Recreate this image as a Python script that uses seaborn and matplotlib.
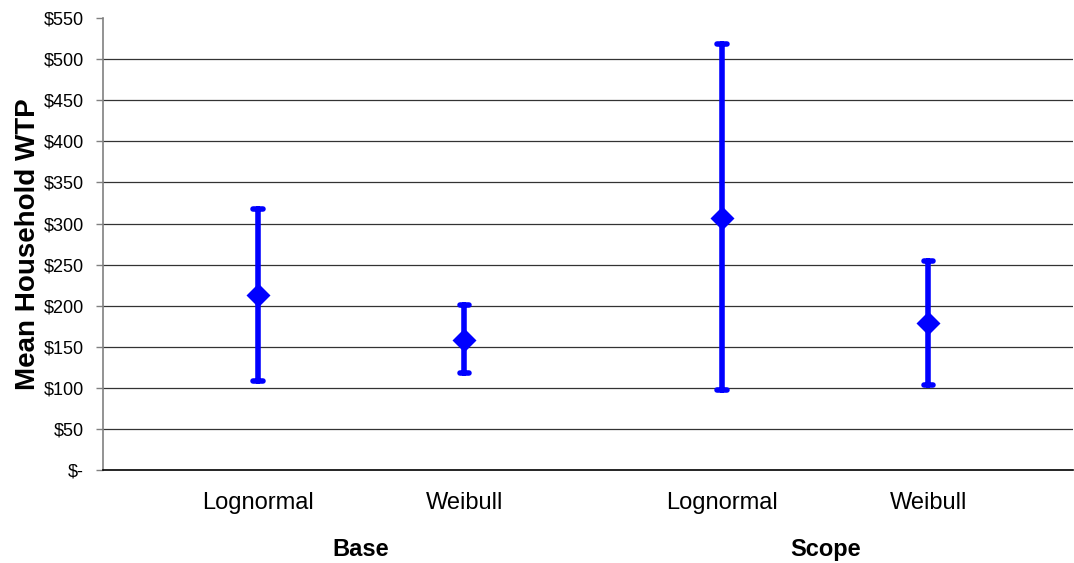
import seaborn as sns
import matplotlib.pyplot as plt
import pandas as pd

# WTP estimates by model: mean with lower / upper bounds
groups = ["Base", "Base", "Scope", "Scope"]
methods = ["Lognormal", "Weibull", "Lognormal", "Weibull"]
mean_wtp = [213, 158, 307, 179]
lower_wtp = [108, 118, 98, 104]
upper_wtp = [318, 201, 518, 255]
yticks = [0, 50, 100, 150, 200, 250, 300, 350, 400, 450, 500, 550]

sns.set_style("white", {"text.color": "black", "axes.labelcolor": "black",
                        "xtick.color": "black", "ytick.color": "black"})
plt.rcParams["font.family"] = ["Liberation Sans", "DejaVu Sans"]

# numeric positions: categories one apart, a little extra gap between groups
group_names = list(dict.fromkeys(groups))
pos = [i + 0.75 + 0.25 * group_names.index(g) for i, g in enumerate(groups)]

rows = []
for p, lo, m, hi in zip(pos, lower_wtp, mean_wtp, upper_wtp):
    for v in (lo, m, hi):
        rows.append({"pos": p, "wtp": v})
df = pd.DataFrame(rows)

fig = plt.figure(figsize=(10.74, 5.63), dpi=100)
ax = fig.add_axes([0.096, 0.165, 0.903, 0.803])

sns.pointplot(data=df, x="pos", y="wtp", native_scale=True,
              estimator="median", errorbar=lambda v: (v.min(), v.max()),
              linestyle="none", markers="D", markersize=10, color="#0000ff",
              capsize=0.045, err_kws={"linewidth": 4, "solid_capstyle": "round"},
              ax=ax)

ax.set_xlim(0, 4.7)
ax.set_ylim(0, 550)
ax.set_yticks(yticks)
ax.set_yticklabels(["$-" if t == 0 else f"${t}" for t in yticks], fontsize=13)
for t in yticks[1:-1]:
    ax.axhline(t, color="#333333", linewidth=0.9, zorder=0)

ax.set_xticks(pos)
ax.set_xticklabels(methods, fontsize=17)
ax.tick_params(axis="x", length=0, pad=16)
ax.tick_params(axis="y", length=5, width=1, color="#808080", direction="out",
               left=True, pad=9)
ax.set_xlabel("")
ax.set_ylabel("Mean Household WTP", fontsize=20, fontweight="bold", labelpad=2)

for g in group_names:
    gx = [p for p, gg in zip(pos, groups) if gg == g]
    ax.text(sum(gx) / len(gx), -0.175, g, transform=ax.get_xaxis_transform(),
            ha="center", va="center", fontsize=17, fontweight="bold")

for s in ["top", "right"]:
    ax.spines[s].set_visible(False)
ax.spines["left"].set_color("#808080")
ax.spines["bottom"].set_color("black")
ax.spines["left"].set_linewidth(1.2)
ax.spines["bottom"].set_linewidth(1.2)

fig.savefig("out.png", dpi=100)
